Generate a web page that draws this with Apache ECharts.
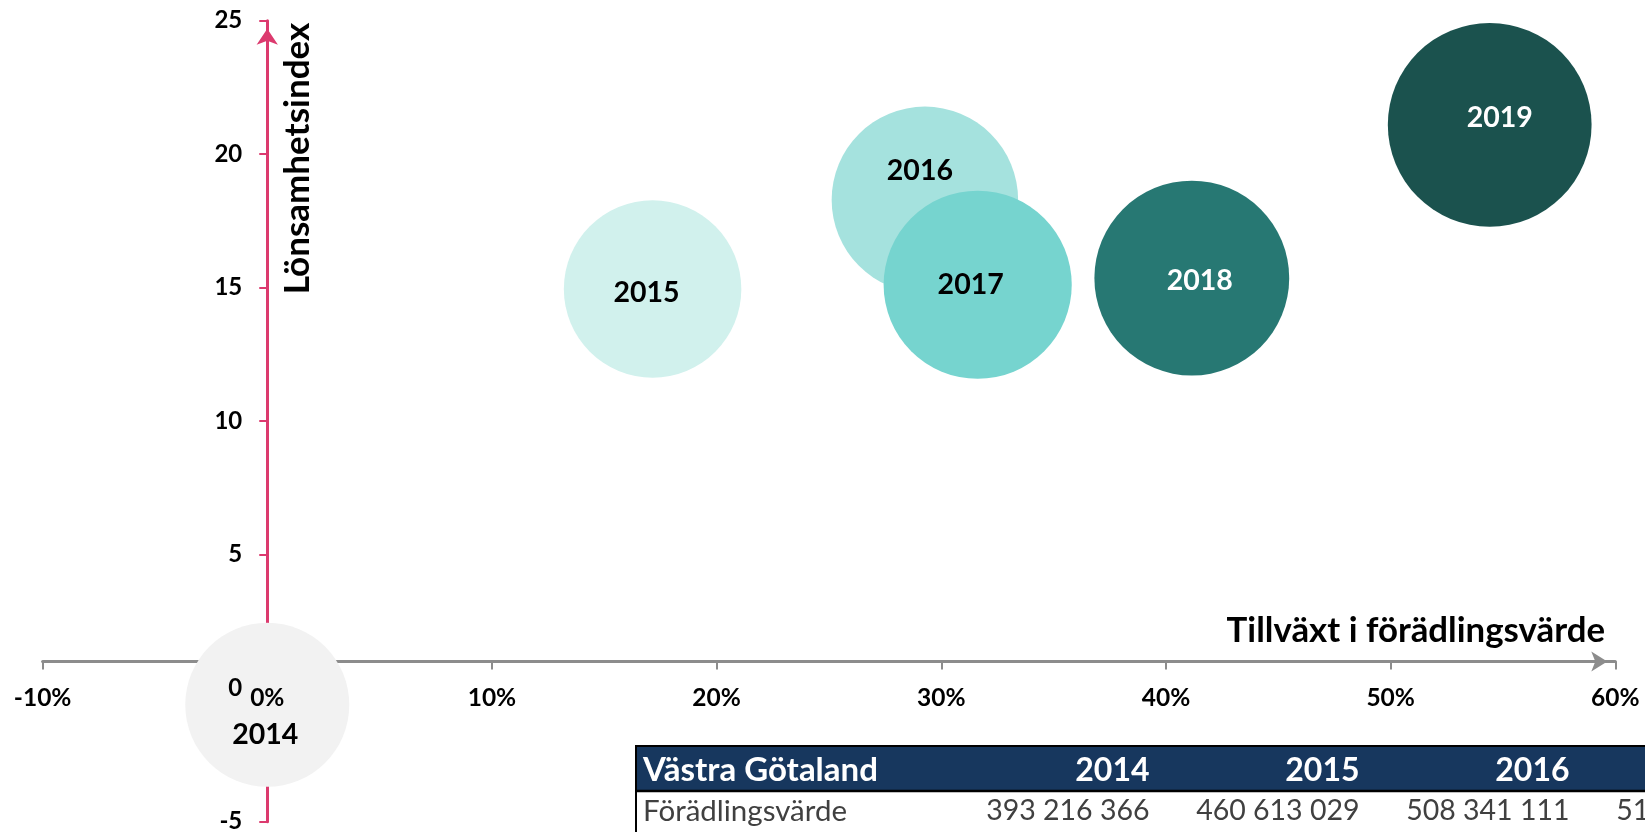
<!DOCTYPE html>
<html>
<head>
<meta charset="utf-8">
<script src="https://cdn.jsdelivr.net/npm/echarts@6/dist/echarts.min.js"></script>
<style>
  html, body { margin: 0; padding: 0; background: #ffffff; }
  #main { width: 1645px; height: 832px; }
</style>
</head>
<body>
<div id="main"></div>
<script>
// ---------------- data ----------------
const years = ['2014', '2015', '2016', '2017', '2018', '2019'];
const growthPct = [0, 17.15, 29.27, 31.62, 41.15, 54.41];          // Tillväxt i förädlingsvärde (%)
const profitIndex = [-0.62, 14.95, 18.29, 15.11, 15.36, 21.1];      // Lönsamhetsindex
const valueAdded = [393216366, 460613029, 508341111, 517500000, 555000000, 607000000]; // Förädlingsvärde
const xTickValues = [-10, 0, 10, 20, 30, 40, 50, 60];
const yTickValues = [-5, 0, 5, 10, 15, 20, 25];
const xAxisName = 'Tillväxt i förädlingsvärde';
const yAxisName = 'Lönsamhetsindex';
const tableTitle = 'Västra Götaland';
const tableRowLabel = 'Förädlingsvärde';

// ---------------- styles ----------------
const bubbleColors = ['#f2f2f2', '#d1f1ed', '#a5e2de', '#76d4cf', '#277873', '#1b524e'];
const labelColors = ['#000000', '#000000', '#000000', '#000000', '#ffffff', '#ffffff'];
const labelNudge = [[-2, 30], [-6, 4], [-5, -29], [-7, 0], [8, 3], [10, -7]];
const FONT = 'Lato, "Open Sans", sans-serif';
const PINK = '#dc3a6e';
const GREY = '#8c8c8c';

const W = 1645, H = 832;
const grid = { left: 42.6, right: 29.7, top: 20.7, bottom: 10.3, containLabel: false, outerBoundsMode: 'none' };
const yMin = -5, yMax = 25, xMin = -10, xMax = 60;
const xCrossesAt = 1;   // horizontal axis crosses the vertical one at y = 1
const yCrossesAt = 0;   // vertical axis crosses at x = 0 %
const gridH = H - grid.top - grid.bottom;
const gridW = W - grid.left - grid.right;
const xAxisOffset = -(xCrossesAt - yMin) / (yMax - yMin) * gridH;
const yAxisOffset = -(yCrossesAt - xMin) / (xMax - xMin) * gridW;
const bubbleScale = 164 / Math.sqrt(393.216366);

function fmtSpaces(v) {
  return String(v).replace(/\B(?=(\d{3})+(?!\d))/g, ' ');
}

const chart = echarts.init(document.getElementById('main'), null, { renderer: 'canvas' });

const xCommon = { type: 'value', min: xMin, max: xMax, interval: 10, position: 'bottom', offset: xAxisOffset, splitLine: { show: false } };
const yCommon = { type: 'value', min: yMin, max: yMax, interval: 5, position: 'left', offset: yAxisOffset, splitLine: { show: false } };

// table
const tableTop = 746, tableLeft = 636, headerH = 45, colW = 210, firstColRight = 1149.5;
const tableGraphics = [
  { type: 'rect', shape: { x: tableLeft, y: tableTop, width: W - tableLeft + 10, height: headerH }, style: { fill: '#17375e' }, z: 10 },
  { type: 'line', shape: { x1: tableLeft - 1, y1: tableTop, x2: W + 5, y2: tableTop }, style: { stroke: '#000', lineWidth: 2 }, z: 11 },
  { type: 'line', shape: { x1: tableLeft - 1, y1: tableTop + headerH, x2: W + 5, y2: tableTop + headerH }, style: { stroke: '#000', lineWidth: 2.5 }, z: 11 },
  { type: 'line', shape: { x1: tableLeft, y1: tableTop - 1, x2: tableLeft, y2: H + 5 }, style: { stroke: '#000', lineWidth: 2 }, z: 11 },
  { type: 'text', x: 643, y: tableTop + headerH / 2 + 2, style: { text: tableTitle, fill: '#fff', font: 'bold 33px ' + FONT, align: 'left', verticalAlign: 'middle' }, z: 12 },
  { type: 'text', x: 643, y: 811, style: { text: tableRowLabel, fill: '#404040', font: '29.5px ' + FONT, align: 'left', verticalAlign: 'middle' }, z: 12 }
];
years.forEach((yr, i) => {
  const xr = firstColRight + i * colW;
  tableGraphics.push({ type: 'text', x: xr, y: tableTop + headerH / 2 + 2, style: { text: yr, fill: '#fff', font: 'bold 32px ' + FONT, align: 'right', verticalAlign: 'middle' }, z: 12 });
  tableGraphics.push({ type: 'text', x: xr, y: 811, style: { text: fmtSpaces(valueAdded[i]), fill: '#404040', font: '28.5px ' + FONT, align: 'right', verticalAlign: 'middle' }, z: 12 });
});

const option = {
  animation: false,
  backgroundColor: '#ffffff',
  grid: grid,
  xAxis: [
    Object.assign({}, xCommon, {
      axisLine: { onZero: false, lineStyle: { color: GREY, width: 3 }, symbol: ['none', 'arrow'], symbolSize: [15, 16], symbolOffset: [0, -8] },
      axisTick: { show: true, length: 8, lineStyle: { color: GREY, width: 2 } },
      axisLabel: { show: false },
      z: 0
    }),
    Object.assign({}, xCommon, {
      axisLine: { show: false, onZero: false },
      axisTick: { show: false },
      axisLabel: {
        show: true, margin: 24, color: '#000', fontFamily: FONT, fontWeight: 'bold', fontSize: 24.5,
        formatter: v => (xTickValues.indexOf(v) >= 0 ? v + '%' : '')
      },
      z: 5
    })
  ],
  yAxis: [
    Object.assign({}, yCommon, {
      axisLine: { onZero: false, lineStyle: { color: PINK, width: 3 }, symbol: ['none', 'arrow'], symbolSize: [16, 16], symbolOffset: [0, -8] },
      axisTick: { show: true, length: 8, lineStyle: { color: PINK, width: 2 } },
      axisLabel: { show: false },
      z: 0
    }),
    Object.assign({}, yCommon, {
      axisLine: { show: false, onZero: false },
      axisTick: { show: false },
      axisLabel: {
        show: true, margin: 25, color: '#000', fontFamily: FONT, fontWeight: 'bold', fontSize: 24,
        formatter: v => (yTickValues.indexOf(v) >= 0 ? String(v) : '')
      },
      z: 5
    })
  ],
  series: [{
    type: 'scatter',
    xAxisIndex: 0,
    yAxisIndex: 0,
    z: 2,
    symbolSize: val => bubbleScale * Math.sqrt(val[2] / 1e6),
    label: { show: true, position: 'inside', formatter: '{b}', fontFamily: FONT, fontWeight: 'bold', fontSize: 28.5 },
    emphasis: { disabled: true },
    data: years.map((yr, i) => ({
      name: yr,
      value: [growthPct[i], profitIndex[i], valueAdded[i]],
      itemStyle: { color: bubbleColors[i], opacity: 1 },
      label: { color: labelColors[i], offset: labelNudge[i] }
    }))
  }],
  graphic: [
    { type: 'text', x: 1605, y: 631, style: { text: xAxisName, fill: '#000', font: 'bold 34.8px ' + FONT, align: 'right', verticalAlign: 'middle' }, z: 12 },
    { type: 'text', x: 298, y: 158.5, rotation: Math.PI / 2, style: { text: yAxisName, fill: '#000', font: 'bold 35px ' + FONT, align: 'center', verticalAlign: 'middle' }, z: 12 }
  ].concat(tableGraphics)
};

chart.setOption(option);
</script>
</body>
</html>
